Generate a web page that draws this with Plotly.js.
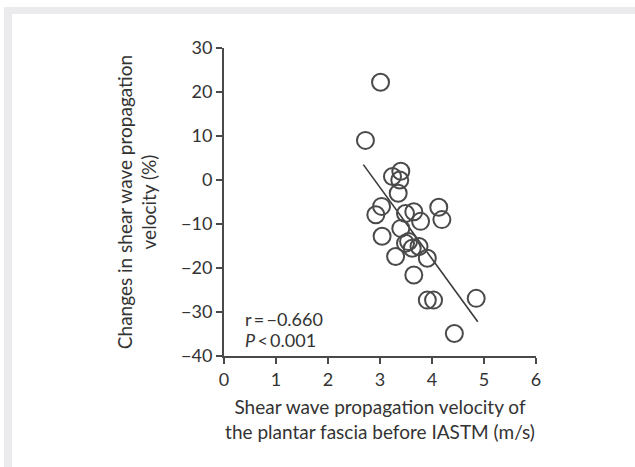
<!DOCTYPE html>
<html>
<head>
<meta charset="utf-8">
<script src="https://cdn.plot.ly/plotly-3.0.1.min.js"></script>
<style>
  html, body { margin: 0; padding: 0; background: #ffffff; }
  #frame { position: absolute; left: 4px; top: 7px; width: 631px; height: 460px;
           border-left: 8px solid #ebebed; border-top: 7px solid #ebebed; box-sizing: border-box; }
  #chart { position: absolute; left: 0; top: 0; width: 635px; height: 467px; }
</style>
</head>
<body>
<div id="frame"></div>
<div id="chart"></div>
<script>
// Baseline shear wave velocity (m/s)
const velocityBefore = [3.01, 2.72, 3.24, 3.40, 3.38, 3.35, 3.03, 2.92, 3.04, 3.40, 3.49, 3.65, 3.78,
                        3.49, 3.62, 3.75, 3.30, 3.91, 3.65, 3.91, 4.03, 4.85, 4.43, 4.13, 4.19, 3.55];
// Change in shear wave velocity (%)
const changePct = [22.2, 9.0, 0.8, 2.0, 0.0, -3.0, -6.0, -7.9, -12.8, -11.0, -7.6, -7.2, -9.4,
                   -14.4, -15.5, -15.1, -17.4, -17.8, -21.6, -27.3, -27.3, -26.9, -34.9, -6.2, -9.0, -14.0];
// Regression line endpoints
const fitX = [2.68, 4.88];
const fitY = [3.5, -32.2];

const xTicks = [0, 1, 2, 3, 4, 5, 6];
const yTicks = [30, 20, 10, 0, -10, -20, -30, -40];
const yTickText = yTicks.map(v => v < 0 ? '\u2212' + Math.abs(v) : String(v));

const FONT = 'Lato, Roboto, Arial, sans-serif';
const AX = '#4a4a4a';
const TXT = '#333333';

const traces = [
  {
    x: fitX, y: fitY, mode: 'lines', type: 'scatter',
    line: {color: '#3a3a3a', width: 1.6}, hoverinfo: 'skip', showlegend: false
  },
  {
    x: velocityBefore, y: changePct, mode: 'markers', type: 'scatter',
    marker: {symbol: 'circle-open', size: 17, color: '#4a4a4a', line: {width: 2, color: '#4a4a4a'}},
    cliponaxis: false, showlegend: false
  }
];

const layout = {
  width: 635, height: 467,
  margin: {l: 224, r: 99, t: 48, b: 111},
  paper_bgcolor: 'rgba(0,0,0,0)', plot_bgcolor: 'rgba(0,0,0,0)',
  font: {family: FONT, size: 18, color: TXT},
  showlegend: false,
  xaxis: {
    range: [0, 6], tickvals: xTicks, ticktext: xTicks.map(String),
    showline: true, linecolor: AX, linewidth: 2, mirror: false,
    ticks: 'outside', ticklen: 6, tickwidth: 2, tickcolor: AX,
    showgrid: false, zeroline: false,
    tickfont: {family: FONT, size: 18, color: TXT},
    title: {text: 'Shear wave propagation velocity of<br>the plantar fascia before IASTM (m/s)',
            font: {family: FONT, size: 19, color: TXT}, standoff: 12}
  },
  yaxis: {
    range: [-40, 30], tickvals: yTicks, ticktext: yTickText,
    showline: true, linecolor: AX, linewidth: 2,
    ticks: 'outside', ticklen: 6, tickwidth: 2, tickcolor: AX,
    showgrid: false, zeroline: false,
    tickfont: {family: FONT, size: 18, color: TXT},
    title: {text: 'Changes in shear wave propagation<br>velocity (%)',
            font: {family: FONT, size: 19, color: TXT}, standoff: 19}
  },
  annotations: [
    {x: 0.36, y: -31.5, xref: 'x', yref: 'y', text: 'r\u2009=\u2009\u22120.660', showarrow: false,
     xanchor: 'left', yanchor: 'middle', font: {family: FONT, size: 18, color: TXT}},
    {x: 0.36, y: -36.3, xref: 'x', yref: 'y', text: '<i>P</i>\u2009<\u20090.001', showarrow: false,
     xanchor: 'left', yanchor: 'middle', font: {family: FONT, size: 18, color: TXT}}
  ]
};

Plotly.newPlot('chart', traces, layout, {displayModeBar: false, staticPlot: true});
</script>
</body>
</html>
